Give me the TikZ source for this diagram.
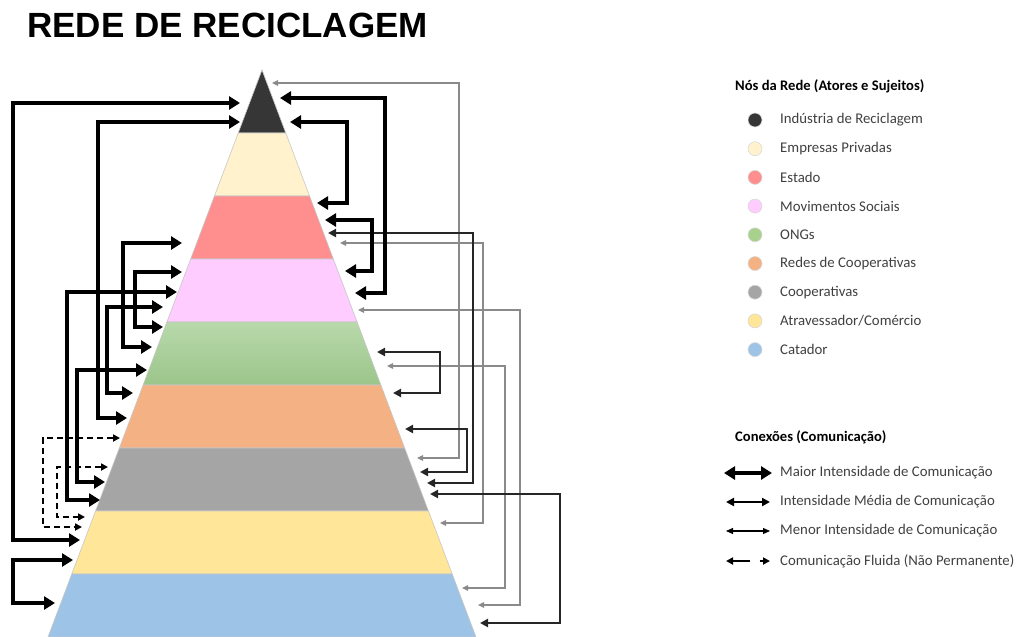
\documentclass[tikz,border=0pt]{standalone}
\usepackage{fontspec}
\setmainfont{Carlito}
\newfontfamily\titlefont{Liberation Sans}
\usetikzlibrary{arrows.meta,calc}

\definecolor{cInd}{HTML}{363636}
\definecolor{cEmp}{HTML}{FFF2CC}
\definecolor{cEst}{HTML}{FF8F8F}
\definecolor{cMov}{HTML}{FFCCFF}
\definecolor{cOngT}{HTML}{B8D9AB}
\definecolor{cOngB}{HTML}{9CC58A}
\definecolor{cOng}{HTML}{A9D18E}
\definecolor{cRed}{HTML}{F4B183}
\definecolor{cCoo}{HTML}{A5A5A5}
\definecolor{cAtr}{HTML}{FFE699}
\definecolor{cCat}{HTML}{9DC3E6}
\definecolor{thinline}{HTML}{8A8A8A}
\definecolor{legtext}{HTML}{404040}

% one connector: start point, end point, x position of the vertical rail
\newcommand\wire[4]{\draw[#1] let \p1=(#2) in (#2) -- (#4pt,\y1) |- (#3);}

\tikzset{
  big/.style={line width=3.8pt, {Triangle[length=11pt,width=13pt]}-{Triangle[length=11pt,width=13pt]}},
  mid/.style={line width=2pt, black!85, {Triangle[length=8pt,width=8pt]}-{Triangle[length=8pt,width=8pt]}},
  fine/.style={line width=1.1pt, thinline, {Triangle[length=6pt,width=5.5pt]}-{Triangle[length=6pt,width=5.5pt]}},
  fluid/.style={line width=1.8pt, dash pattern=on 6pt off 4pt, {Triangle[length=7pt,width=7pt]}-{Triangle[length=7pt,width=7pt]}},
  layer0/.style={fill=cInd},
  layer1/.style={fill=cEmp},
  layer2/.style={fill=cEst},
  layer3/.style={fill=cMov},
  layer4/.style={top color=cOngT, bottom color=cOngB},
  layer5/.style={fill=cRed},
  layer6/.style={fill=cCoo},
  layer7/.style={fill=cAtr},
  layer8/.style={fill=cCat},
  dot/.style={circle, minimum size=14pt, inner sep=0pt, draw=black!15, line width=0.6pt},
  legitem/.style={anchor=west, inner sep=0pt, text=legtext, font=\fontsize{14.8}{17}\selectfont},
  leghead/.style={anchor=west, inner sep=0pt, font=\bfseries\fontsize{14.6}{17}\selectfont},
}

\begin{document}
\begin{tikzpicture}[x=1pt,y=-1pt]
\useasboundingbox (0,0) rectangle (1020,637);

% title
\node[anchor=base west, inner sep=0pt, font=\titlefont\bfseries\fontsize{35}{40}\selectfont] (title) at (27,37) {REDE DE RECICLAGEM};

% pyramid of nine layers, apex (262,70), base at y=637
\foreach \i in {0,...,8} {
  \pgfmathsetmacro\ya{70+63*\i}
  \pgfmathsetmacro\yb{70+63*(\i+1)}
  \pgfmathsetmacro\ha{0.3774*63*\i}
  \pgfmathsetmacro\hb{0.3774*63*(\i+1)}
  \path[layer\i, draw=black!22, line width=0.6pt]
    (262-\ha,\ya) -- (262+\ha,\ya) -- (262+\hb,\yb) -- (262-\hb,\yb) -- cycle;
}

% connector end points, left side
\coordinate (a1) at (240,103);  \coordinate (b1) at (80,540);
\coordinate (a2) at (240,122);  \coordinate (b2) at (127,418);
\coordinate (a3) at (182,243);  \coordinate (b3) at (152,347);
\coordinate (a4) at (182,272);  \coordinate (b4) at (163,327);
\coordinate (a5) at (177,292);  \coordinate (b5) at (100,500);
\coordinate (a6) at (163,307);  \coordinate (b6) at (133,393);
\coordinate (a7) at (147,370);  \coordinate (b7) at (105,482);
\coordinate (a8) at (73,560);   \coordinate (b8) at (55,603);
\coordinate (d1) at (120,438);  \coordinate (e1) at (82,527);
\coordinate (d2) at (108,467);  \coordinate (e2) at (85,517);

% connector end points, right side
\coordinate (r1) at (280,98);   \coordinate (s1) at (355,293);
\coordinate (r2) at (290,122);  \coordinate (s2) at (317,203);
\coordinate (r3) at (325,220);  \coordinate (s3) at (345,271);
\coordinate (m1) at (328,233);  \coordinate (n1) at (427,483);
\coordinate (m2) at (377,352);  \coordinate (n2) at (393,393);
\coordinate (m3) at (405,429);  \coordinate (n3) at (420,472);
\coordinate (m4) at (430,494);  \coordinate (n4) at (480,623);
\coordinate (t1) at (272,83);   \coordinate (u1) at (417,458);
\coordinate (t2) at (340,243);  \coordinate (u2) at (440,523);
\coordinate (t3) at (358,310);  \coordinate (u3) at (478,605);
\coordinate (t4) at (387,366);  \coordinate (u4) at (462,588);

% left connectors
\wire{big}{a1}{b1}{13}
\wire{big}{a2}{b2}{98}
\wire{big}{a3}{b3}{123}
\wire{big}{a4}{b4}{135}
\wire{big}{a5}{b5}{67}
\wire{big}{a6}{b6}{107}
\wire{big}{a7}{b7}{77}
\wire{big}{a8}{b8}{13}
\wire{fluid}{d1}{e1}{43}
\wire{fluid}{d2}{e2}{57}

% right connectors
\wire{fine}{t1}{u1}{459}
\wire{fine}{t2}{u2}{483}
\wire{fine}{t3}{u3}{520}
\wire{fine}{t4}{u4}{505}
\wire{mid}{m1}{n1}{473}
\wire{mid}{m2}{n2}{440}
\wire{mid}{m3}{n3}{467}
\wire{mid}{m4}{n4}{560}
\wire{big}{r1}{s1}{385}
\wire{big}{r2}{s2}{347}
\wire{big}{r3}{s3}{372}

% legend: network nodes
\node[leghead] (hnodes) at (735,86) {Nós da Rede (Atores e Sujeitos)};
\foreach \c/\t [count=\k from 0] in {cInd/{Indústria de Reciclagem}, cEmp/{Empresas Privadas}, cEst/{Estado}, cMov/{Movimentos Sociais}, cOng/{ONGs}, cRed/{Redes de Cooperativas}, cCoo/{Cooperativas}, cAtr/{Atravessador/Comércio}, cCat/{Catador}} {
  \node[dot, fill=\c] (dot\k) at (755,120+28.7*\k) {};
  \node[legitem] (item\k) at (780,120+28.7*\k) {\t};
}

% legend: connection types
\node[leghead] (hconn) at (735,437) {Conexões (Comunicação)};
\coordinate (k1a) at (724,473); \coordinate (k1b) at (772,473);
\coordinate (k2a) at (726,502); \coordinate (k2b) at (770,502);
\coordinate (k3a) at (726,531); \coordinate (k3b) at (770,531);
\coordinate (k4a) at (726,561); \coordinate (k4b) at (770,561);
\draw[big] (k1a) -- (k1b);
\draw[line width=2pt, {Triangle[length=8pt,width=8pt]}-{Triangle[length=8pt,width=8pt]}] (k2a) -- (k2b);
\draw[line width=1.1pt, {Triangle[length=7pt,width=6pt]}-{Triangle[length=7pt,width=6pt]}] (k3a) -- (k3b);
\draw[line width=1.8pt, dash pattern=on 17pt off 10pt, {Triangle[length=7pt,width=7pt]}-{Triangle[length=7pt,width=7pt]}] (k4a) -- (k4b);
\node[legitem] (c1) at (780,473) {Maior Intensidade de Comunicação};
\node[legitem] (c2) at (780,502) {Intensidade Média de Comunicação};
\node[legitem] (c3) at (780,531) {Menor Intensidade de Comunicação};
\node[legitem] (c4) at (780,561) {Comunicação Fluida (Não Permanente)};
\end{tikzpicture}
\end{document}
